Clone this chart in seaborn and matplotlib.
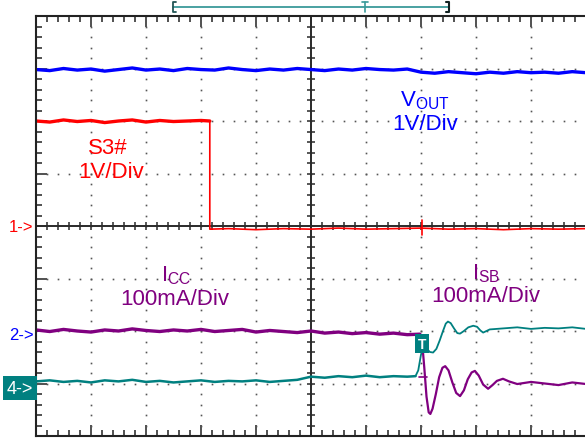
import numpy as np
import pandas as pd
import seaborn as sns
import matplotlib.pyplot as plt

# time base in divisions (10 div across, 8 div high)
time_base = [0.0, 0.25, 0.5, 0.75, 1.0, 1.25, 1.5, 1.75, 2.0, 2.25, 2.5, 2.75,
             3.0, 3.25, 3.5, 3.75, 4.0, 4.25, 4.5, 4.75, 5.0, 5.25, 5.5, 5.75,
             6.0, 6.25, 6.5, 6.75, 7.0, 7.25, 7.5, 7.75, 8.0, 8.25, 8.5, 8.75,
             9.0, 9.25, 9.5, 9.75, 10.0]

vout = [2.98, 2.96, 3.00, 2.97, 2.99, 2.95, 2.98, 3.01, 2.97, 2.99, 2.96, 3.00,
        2.98, 2.97, 3.01, 2.98, 2.96, 2.99, 2.97, 3.00, 2.98, 2.96, 2.99, 2.97,
        3.00, 2.98, 2.97, 2.99, 2.93, 2.91, 2.94, 2.92, 2.90, 2.93, 2.91, 2.94,
        2.92, 2.93, 2.91, 2.94, 2.92]

s3_time = [0.0, 0.25, 0.5, 0.75, 1.0, 1.25, 1.5, 1.75, 2.0, 2.25, 2.5, 2.75,
           3.0, 3.16, 3.16, 3.5, 4.0, 4.5, 5.0, 5.5, 6.0, 6.5, 7.0, 7.5, 8.0,
           8.5, 9.0, 9.5, 10.0]
s3 = [2.00, 1.98, 2.02, 1.99, 2.01, 1.97, 2.00, 2.02, 1.98, 2.01, 1.99, 2.00,
      2.01, 2.00, -0.06, -0.05, -0.07, -0.05, -0.06, -0.04, -0.06, -0.05, -0.04,
      -0.06, -0.05, -0.07, -0.05, -0.06, -0.05]

icc_time = [0.0, 0.25, 0.5, 0.75, 1.0, 1.25, 1.5, 1.75, 2.0, 2.25, 2.5, 2.75,
            3.0, 3.25, 3.5, 3.75, 4.0, 4.25, 4.5, 4.75, 5.0, 5.25, 5.5, 5.75,
            6.0, 6.25, 6.5, 6.75, 6.98,
            7.02, 7.06, 7.10, 7.14, 7.17, 7.21, 7.27, 7.33, 7.39, 7.44, 7.50,
            7.57, 7.64, 7.71, 7.78, 7.85, 7.92, 7.98, 8.05, 8.13, 8.22, 8.30,
            8.38, 8.49, 8.60, 8.75, 9.0, 9.25, 9.5, 9.75, 10.0]
icc = [-1.98, -2.01, -1.97, -2.00, -2.02, -1.98, -2.00, -1.96, -1.99, -2.01,
       -1.98, -2.00, -1.97, -2.01, -1.99, -1.97, -2.02, -1.99, -2.01, -2.03,
       -2.00, -2.04, -2.02, -2.05, -2.03, -2.06, -2.04, -2.07, -2.06,
       -2.20, -2.70, -3.25, -3.55, -3.58, -3.48, -3.20, -2.88, -2.70, -2.67,
       -2.75, -2.98, -3.18, -3.24, -3.13, -2.92, -2.79, -2.76, -2.85, -3.02,
       -3.10, -3.03, -2.95, -2.91, -2.96, -3.01, -2.97, -3.00, -3.03, -2.98, -3.01]

isb_time = [0.0, 0.25, 0.5, 0.75, 1.0, 1.25, 1.5, 1.75, 2.0, 2.25, 2.5, 2.75,
            3.0, 3.25, 3.5, 3.75, 4.0, 4.25, 4.5, 4.75, 5.0, 5.25, 5.5, 5.75,
            6.0, 6.25, 6.5, 6.75, 6.90,
            6.95, 7.00, 7.05, 7.10, 7.16, 7.22, 7.28, 7.34, 7.40, 7.45, 7.49,
            7.54, 7.60, 7.66, 7.71, 7.78, 7.86, 7.95, 8.02, 8.08, 8.13, 8.25,
            8.5, 8.75, 9.0, 9.25, 9.5, 9.75, 10.0]
isb = [-2.96, -2.94, -2.97, -2.95, -2.98, -2.94, -2.96, -2.93, -2.97, -2.95,
       -2.98, -2.96, -2.94, -2.97, -2.95, -2.96, -2.94, -2.97, -2.95, -2.93,
       -2.87, -2.89, -2.86, -2.88, -2.85, -2.88, -2.86, -2.87, -2.86,
       -2.75, -2.45, -2.30, -2.33, -2.40, -2.41, -2.34, -2.18, -2.00, -1.86,
       -1.82, -1.85, -1.95, -2.04, -2.05, -2.00, -1.93, -1.90, -1.92, -1.99,
       -2.03, -1.97, -1.95, -1.93, -1.96, -1.94, -1.95, -1.93, -1.96]

BLUE = "#0000ff"
RED = "#ff0000"
PURPLE = "#800080"
TEAL = "#008080"

sns.set_style("white")
plt.rcParams['font.family'] = ['Liberation Sans', 'DejaVu Sans']
plt.rcParams['mathtext.fontset'] = 'custom'
plt.rcParams['mathtext.rm'] = 'Liberation Sans'

fig = plt.figure(figsize=(5.85, 4.39), dpi=100)
ax = fig.add_axes([36 / 585, 2 / 439, 550 / 585, 420 / 439])
ax.set_xlim(0, 10)
ax.set_ylim(-4, 4)

# graticule: dotted grid at minor steps, center cross with ticks
minor_x = np.arange(0, 10.001, 0.2)
minor_y = np.arange(-4, 4.001, 0.2)
for k in range(1, 10):
    if k != 5:
        ax.plot([k] * len(minor_y), minor_y, ls='none', marker='s', ms=1.2,
                mec='none', color='#555555')
for k in range(-3, 4):
    if k != 0:
        ax.plot(minor_x, [k] * len(minor_x), ls='none', marker='s', ms=1.2,
                mec='none', color='#555555')
ax.axhline(0, color='#2a2a2a', lw=1.4)
ax.axvline(5, color='#2a2a2a', lw=1.4)
ax.plot(minor_x, [0] * len(minor_x), ls='none', marker='|', ms=6, mew=1.1, color='#2a2a2a')
ax.plot([5] * len(minor_y), minor_y, ls='none', marker='_', ms=6, mew=1.1, color='#2a2a2a')

ax.set_xticks(np.arange(0, 10.001, 1))
ax.set_xticks(minor_x, minor=True)
ax.set_yticks(np.arange(-4, 4.001, 1))
ax.set_yticks(minor_y, minor=True)
ax.tick_params(which='both', direction='in', labelleft=False, labelbottom=False,
               top=True, bottom=True, left=True, right=False, color='#222222', width=1.1)
ax.tick_params(which='major', length=8)
ax.tick_params(which='minor', length=4)
for side in ['left', 'top', 'bottom']:
    ax.spines[side].set_color('#222222')
    ax.spines[side].set_linewidth(1.5)
ax.spines['right'].set_visible(False)

# traces (noisy steady parts drawn thicker than the clean edges)
sns.lineplot(x=time_base, y=vout, ax=ax, color=BLUE, lw=2.4, estimator=None, sort=False)
sns.lineplot(x=s3_time[:14], y=s3[:14], ax=ax, color=RED, lw=2.4, estimator=None, sort=False)
sns.lineplot(x=s3_time[13:], y=s3[13:], ax=ax, color=RED, lw=1.2, estimator=None, sort=False)
sns.lineplot(x=isb_time[:29], y=isb[:29], ax=ax, color=TEAL, lw=1.8, estimator=None, sort=False)
sns.lineplot(x=isb_time[28:], y=isb[28:], ax=ax, color=TEAL, lw=1.3, estimator=None, sort=False)
sns.lineplot(x=icc_time[:29], y=icc[:29], ax=ax, color=PURPLE, lw=2.4, estimator=None, sort=False)
sns.lineplot(x=icc_time[28:], y=icc[28:], ax=ax, color=PURPLE, lw=1.6, estimator=None, sort=False)

# cursor ticks at the trigger time
ax.plot([7.02, 7.02], [-0.17, 0.12], color=RED, lw=1.2)
ax.plot([6.97, 7.11], [-2.88, -2.88], color=PURPLE, lw=1.2)

# labels
fs = 16
ax.text(1.31, 1.50, "S3#", color=RED, fontsize=fs, ha='center', va='center')
ax.text(1.36, 1.03, "1V/Div", color=RED, fontsize=fs, ha='center', va='center')
ax.text(7.07, 2.40, r"V$_\mathrm{OUT}$", color=BLUE, fontsize=fs, ha='center', va='center')
ax.text(7.07, 1.96, "1V/Div", color=BLUE, fontsize=fs, ha='center', va='center')
ax.text(2.54, -0.93, r"I$_\mathrm{CC}$", color=PURPLE, fontsize=fs, ha='center', va='center')
ax.text(2.53, -1.39, "100mA/Div", color=PURPLE, fontsize=fs, ha='center', va='center')
ax.text(8.19, -0.88, r"I$_\mathrm{SB}$", color=PURPLE, fontsize=fs, ha='center', va='center')
ax.text(8.18, -1.33, "100mA/Div", color=PURPLE, fontsize=fs, ha='center', va='center')

# channel markers
ax.text(-0.05, 0.0, "1->", color=RED, fontsize=12, ha='right', va='center', clip_on=False)
ax.text(-0.05, -2.06, "2->", color=BLUE, fontsize=12, ha='right', va='center', clip_on=False)
ax.text(-0.29, -3.09, "4->", color='white', fontsize=13, ha='center', va='center',
        clip_on=False, bbox=dict(boxstyle='square,pad=0.2', fc=TEAL, ec='none'))

# trigger marker
ax.text(7.02, -2.24, "T", color='white', fontsize=10, fontweight='bold', ha='center',
        va='center', bbox=dict(boxstyle='square,pad=0.18', fc=TEAL, ec='none'))

# record overview bracket above the screen
ax.plot([2.49, 7.51], [4.17, 4.17], color='#3a9a9a', lw=1.3, clip_on=False)
ax.plot([2.54, 2.49, 2.49, 2.54], [4.27, 4.27, 4.07, 4.07], color='#225555', lw=1.3, clip_on=False)
ax.plot([7.46, 7.51, 7.51, 7.46], [4.27, 4.27, 4.07, 4.07], color='#112222', lw=1.5, clip_on=False)
ax.plot([5.98, 5.98], [4.07, 4.27], color='#3a9a9a', lw=1.2, clip_on=False)
ax.plot([5.93, 6.03], [4.27, 4.27], color='#3a9a9a', lw=1.2, clip_on=False)

fig.savefig("out.png", dpi=100)
